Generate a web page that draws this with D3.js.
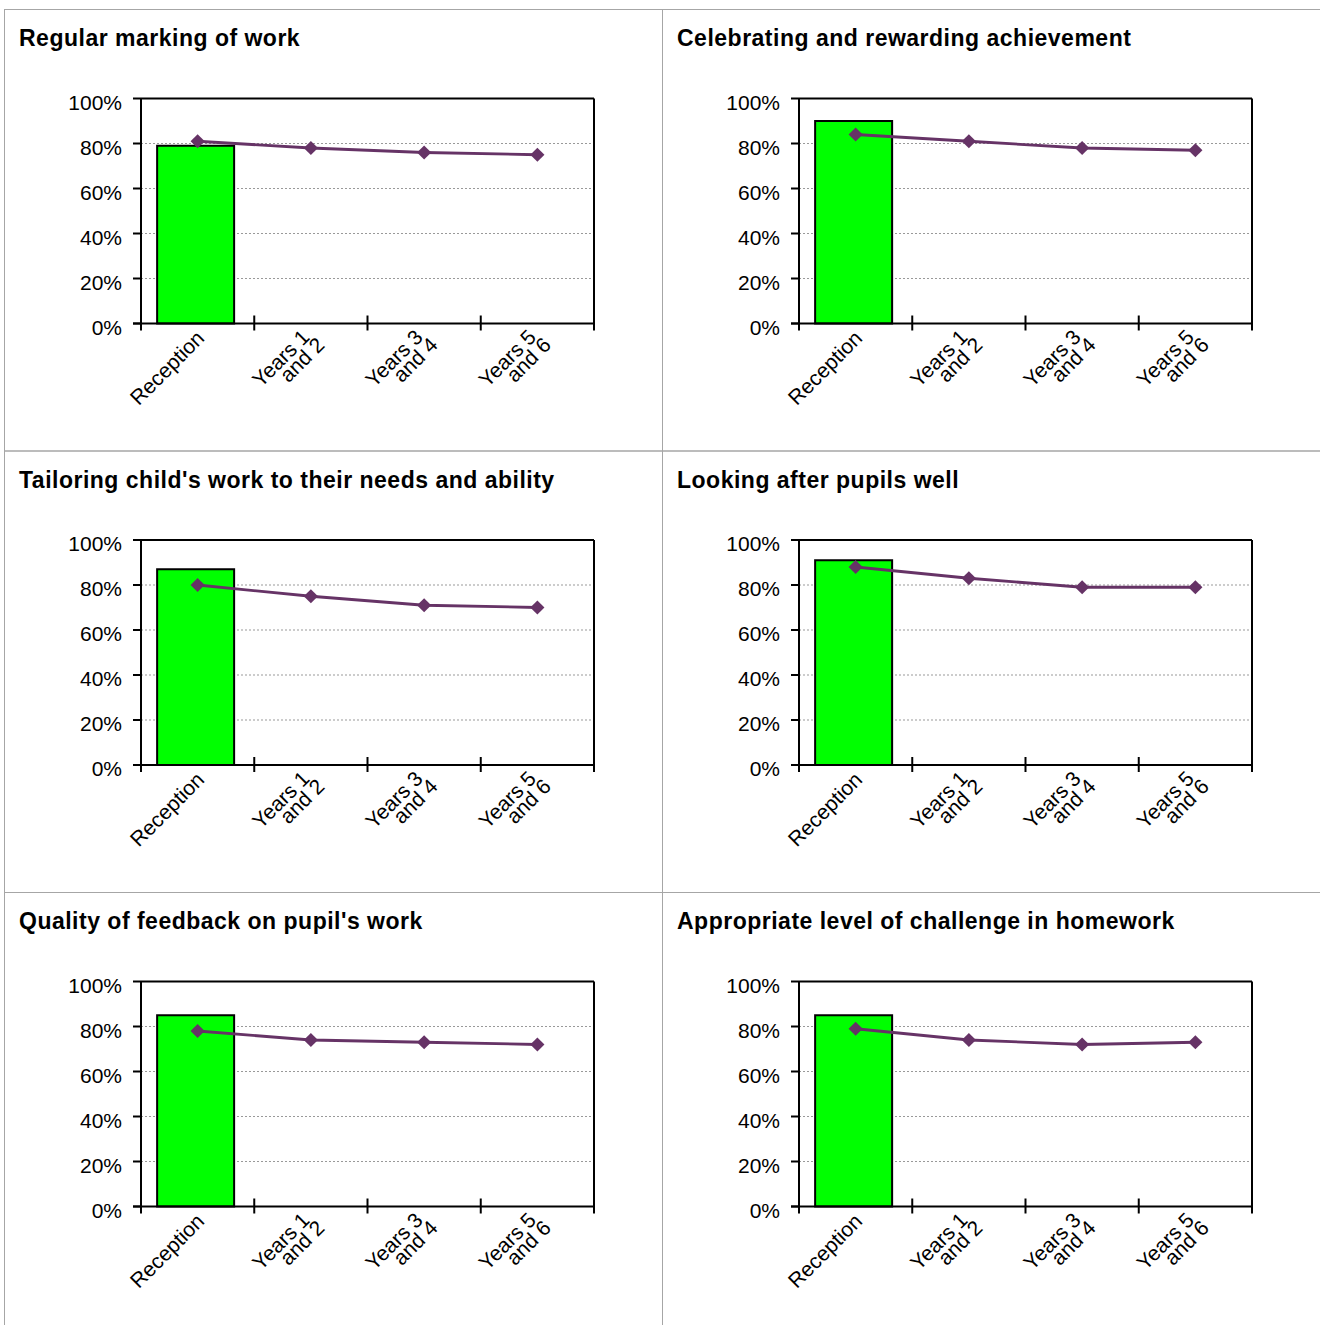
<!DOCTYPE html>
<html>
<head>
<meta charset="utf-8">
<script src="https://cdn.jsdelivr.net/npm/d3@7"></script>
<style>
  html, body { margin: 0; padding: 0; background: #fff; }
  svg { display: block; font-family: "Liberation Sans", Arial, sans-serif; }
</style>
</head>
<body>
<svg id="chart" width="1320" height="1325"></svg>
<script>
// Survey panels: percentage of positive responses by year group
const titles = [
  "Regular marking of work",
  "Celebrating and rewarding achievement",
  "Tailoring child's work to their needs and ability",
  "Looking after pupils well",
  "Quality of feedback on pupil's work",
  "Appropriate level of challenge in homework"
];
const categories = ["Reception", "Years 1\nand 2", "Years 3\nand 4", "Years 5\nand 6"];
// Reception bar value for each panel
const barValues = [79, 90, 87, 91, 85, 85];
// Line series across the four year groups for each panel
const lineMarking     = [81, 78, 76, 75];
const lineCelebrating = [84, 81, 78, 77];
const lineTailoring   = [80, 75, 71, 70];
const lineLooking     = [88, 83, 79, 79];
const lineFeedback    = [78, 74, 73, 72];
const lineHomework    = [79, 74, 72, 73];
const lineValues = [lineMarking, lineCelebrating, lineTailoring, lineLooking, lineFeedback, lineHomework];
const yTicks = [0, 20, 40, 60, 80, 100];
const gridTicks = [20, 40, 60, 80];

const svg = d3.select("#chart");
const cellW = 658, cellH = 441.5, originX = 4, originY = 9;
const plot = { left: 137, top: 89.5, width: 453, height: 225 };
const axisFont = 21;

const x = d3.scaleBand().domain(categories).range([0, plot.width]).paddingInner(0).paddingOuter(0);
const y = d3.scaleLinear().domain([0, 100]).range([plot.height, 0]);
const barW = 77;
const lineColor = "#663366";

// cell borders
titles.forEach((t, i) => {
  const col = i % 2, row = Math.floor(i / 2);
  svg.append("rect")
    .attr("x", originX + col * cellW + 0.5)
    .attr("y", originY + row * cellH + 0.5)
    .attr("width", cellW)
    .attr("height", cellH)
    .attr("fill", "none")
    .attr("stroke", "#a6a6a6")
    .attr("stroke-width", 1);
});

titles.forEach((title, i) => {
  const col = i % 2, row = Math.floor(i / 2);
  const cell = svg.append("g")
    .attr("transform", `translate(${originX + col * cellW},${originY + row * cellH})`);

  cell.append("text")
    .attr("x", 15).attr("y", 37)
    .attr("font-size", 23).attr("font-weight", "bold").attr("letter-spacing", 0.5).attr("fill", "#000")
    .text(title);

  const g = cell.append("g").attr("transform", `translate(${plot.left},${plot.top})`);

  // dashed gridlines
  g.selectAll("line.grid").data(gridTicks).join("line")
    .attr("class", "grid")
    .attr("x1", 0).attr("x2", plot.width)
    .attr("y1", d => y(d)).attr("y2", d => y(d))
    .attr("stroke", "#999").attr("stroke-width", 1).attr("stroke-dasharray", "2,2");

  // reception bar
  g.append("rect")
    .attr("x", x(categories[0]) + x.bandwidth() / 2 - 2 - barW / 2)
    .attr("y", y(barValues[i]))
    .attr("width", barW)
    .attr("height", y(0) - y(barValues[i]))
    .attr("fill", "#00ff00")
    .attr("stroke", "#000").attr("stroke-width", 2);

  // plot frame: top and right
  g.append("line").attr("x1", 0).attr("x2", plot.width).attr("y1", 0).attr("y2", 0)
    .attr("stroke", "#000").attr("stroke-width", 2);
  g.append("line").attr("x1", plot.width).attr("x2", plot.width).attr("y1", 0).attr("y2", plot.height + 7)
    .attr("stroke", "#000").attr("stroke-width", 2);

  // y axis
  g.append("line").attr("x1", 0).attr("x2", 0).attr("y1", 0).attr("y2", plot.height + 7)
    .attr("stroke", "#000").attr("stroke-width", 2);
  g.selectAll("line.ytick").data(yTicks).join("line")
    .attr("class", "ytick")
    .attr("x1", -8).attr("x2", 0)
    .attr("y1", d => y(d)).attr("y2", d => y(d))
    .attr("stroke", "#000").attr("stroke-width", 2);
  g.selectAll("text.ylab").data(yTicks).join("text")
    .attr("class", "ylab")
    .attr("x", -19).attr("y", d => y(d) + 11)
    .attr("text-anchor", "end").attr("font-size", axisFont).attr("fill", "#000")
    .text(d => d + "%");

  // x axis
  g.append("line").attr("x1", -8).attr("x2", plot.width).attr("y1", plot.height).attr("y2", plot.height)
    .attr("stroke", "#000").attr("stroke-width", 2);
  g.selectAll("line.xtick").data(categories.slice(1)).join("line")
    .attr("class", "xtick")
    .attr("x1", d => x(d)).attr("x2", d => x(d))
    .attr("y1", plot.height - 8).attr("y2", plot.height + 7)
    .attr("stroke", "#000").attr("stroke-width", 2);

  // rotated category labels, wrapped lines aligned at their ends
  const lh = 16;
  categories.forEach(c => {
    const lines = c.split("\n");
    const dx = lines.length > 1 ? 0 : 8;
    const dy = lines.length > 1 ? 15 : 16;
    const lab = g.append("g")
      .attr("transform", `translate(${x(c) + x.bandwidth() / 2 + dx},${plot.height + dy}) rotate(-45)`);
    lines.forEach((s, k) => {
      lab.append("text")
        .attr("x", k * 5).attr("y", k * lh)
        .attr("text-anchor", "end").attr("font-size", axisFont).attr("fill", "#000")
        .text(s);
    });
  });

  // line series with diamond markers
  const line = d3.line()
    .x((d, j) => x(categories[j]) + x.bandwidth() / 2)
    .y(d => y(d));
  g.append("path")
    .datum(lineValues[i])
    .attr("d", line)
    .attr("fill", "none").attr("stroke", lineColor).attr("stroke-width", 2.8);
  const diamond = d3.symbol(d3.symbolSquare, 100);
  g.selectAll("path.marker").data(lineValues[i]).join("path")
    .attr("class", "marker")
    .attr("d", diamond)
    .attr("transform", (d, j) => `translate(${x(categories[j]) + x.bandwidth() / 2},${y(d)}) rotate(45)`)
    .attr("fill", lineColor);
});
</script>
</body>
</html>
